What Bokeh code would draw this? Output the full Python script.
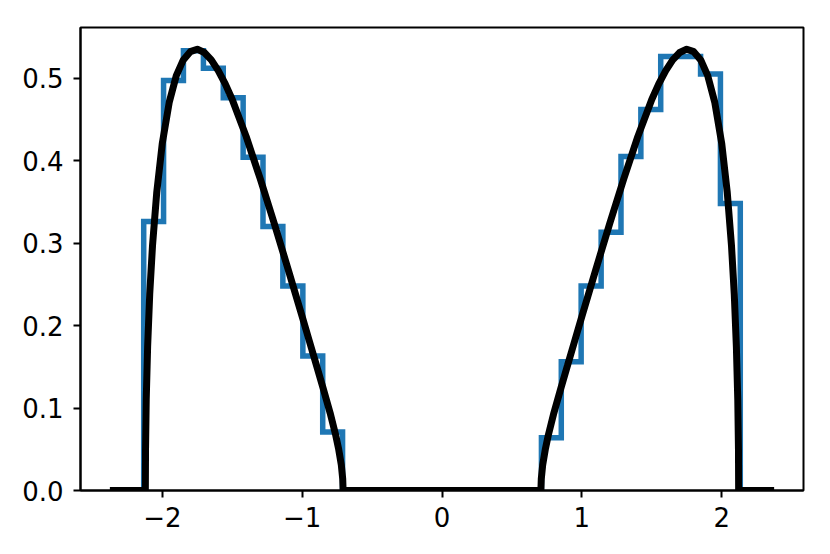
from bokeh.plotting import figure
from bokeh.models import Range1d, FixedTicker
from bokeh.embed import file_html
from bokeh.resources import INLINE

# ---- data ----
bin_edges = [-2.133, -1.991, -1.849, -1.706, -1.564, -1.422, -1.280, -1.138, -0.995, -0.853,
             -0.711, -0.569, -0.427, -0.284, -0.142, 0.000, 0.142, 0.284, 0.427, 0.569,
             0.711, 0.853, 0.995, 1.138, 1.280, 1.422, 1.564, 1.706, 1.849, 1.991, 2.133]
bin_heights = [0.326, 0.497, 0.533, 0.512, 0.476, 0.404, 0.320, 0.248, 0.163, 0.071,
               0.0, 0.0, 0.0, 0.0, 0.0, 0.0, 0.0, 0.0, 0.0, 0.0,
               0.064, 0.156, 0.248, 0.313, 0.405, 0.462, 0.526, 0.526, 0.505, 0.348]

curve_x = [-2.35, -2.1213, -2.12, -2.115, -2.105, -2.09, -2.07, -2.04, -2.00, -1.95, -1.90,
           -1.85, -1.80, -1.75, -1.70, -1.65, -1.60, -1.55, -1.50, -1.40, -1.30, -1.20,
           -1.10, -1.00, -0.95, -0.90, -0.85, -0.80, -0.76, -0.74, -0.72, -0.71, -0.7071,
           0.7071, 0.71, 0.72, 0.74, 0.76, 0.80, 0.85, 0.90, 0.95, 1.00, 1.10, 1.20, 1.30,
           1.40, 1.50, 1.55, 1.60, 1.65, 1.70, 1.75, 1.80, 1.85, 1.90, 1.95, 2.00, 2.04,
           2.07, 2.09, 2.105, 2.115, 2.12, 2.1213, 2.35]
curve_y = [0.0, 0.0, 0.050, 0.110, 0.174, 0.238, 0.297, 0.361, 0.421, 0.471, 0.503,
           0.522, 0.532, 0.535, 0.531, 0.522, 0.509, 0.493, 0.474, 0.429, 0.378, 0.324,
           0.268, 0.211, 0.182, 0.153, 0.124, 0.094, 0.067, 0.051, 0.031, 0.014, 0.0,
           0.0, 0.014, 0.031, 0.051, 0.067, 0.094, 0.124, 0.153, 0.182, 0.211, 0.268,
           0.324, 0.378, 0.429, 0.474, 0.493, 0.509, 0.522, 0.531, 0.535, 0.532, 0.522,
           0.503, 0.471, 0.421, 0.361, 0.297, 0.238, 0.174, 0.110, 0.050, 0.0, 0.0]

x_ticks = [-2, -1, 0, 1, 2]
x_tick_labels = ["\u22122", "\u22121", "0", "1", "2"]
y_ticks = [0.0, 0.1, 0.2, 0.3, 0.4, 0.5]
y_tick_labels = ["0.0", "0.1", "0.2", "0.3", "0.4", "0.5"]

# ---- step outline of the histogram (matplotlib histtype='step') ----
step_x = [bin_edges[0]]
step_y = [0.0]
for i, h in enumerate(bin_heights):
    step_x += [bin_edges[i], bin_edges[i + 1]]
    step_y += [h, h]
step_x.append(bin_edges[-1])
step_y.append(0.0)

p = figure(width=822, height=546, output_backend="svg", toolbar_location=None,
           x_range=Range1d(-2.585, 2.585), y_range=Range1d(0.0, 0.5613),
           min_border_left=80, min_border_right=19, min_border_top=27, min_border_bottom=56)

p.background_fill_color = "white"
p.border_fill_color = "white"
p.outline_line_color = "black"
p.outline_line_width = 2
p.xgrid.visible = False
p.ygrid.visible = False

p.line(step_x, step_y, line_color="#1f77b4", line_width=5.5, line_join="miter")
p.line(curve_x, curve_y, line_color="black", line_width=7, line_join="round",
       line_cap="square")

p.xaxis.ticker = FixedTicker(ticks=x_ticks)
p.yaxis.ticker = FixedTicker(ticks=y_ticks)
p.xaxis.major_label_overrides = {t: l for t, l in zip(x_ticks, x_tick_labels)}
p.yaxis.major_label_overrides = {t: l for t, l in zip(y_ticks, y_tick_labels)}

for ax in (p.xaxis[0], p.yaxis[0]):
    ax.axis_line_color = "black"
    ax.axis_line_width = 2
    ax.major_tick_line_color = "black"
    ax.major_tick_line_width = 2
    ax.major_tick_out = 7
    ax.major_tick_in = 0
    ax.minor_tick_out = 0
    ax.minor_tick_in = 0
    ax.major_label_text_font = "DejaVu Sans"
    ax.major_label_text_font_size = "26px"
    ax.major_label_text_color = "black"

p.yaxis.major_label_standoff = 10
p.xaxis.major_label_standoff = 9

open("out.html", "w").write(file_html(p, INLINE))
